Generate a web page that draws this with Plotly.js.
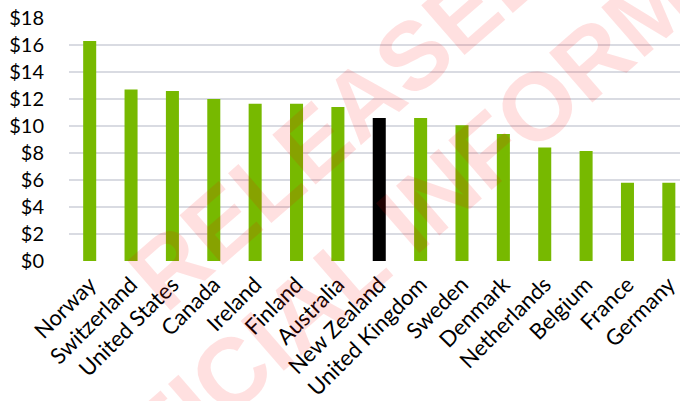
<!DOCTYPE html>
<html>
<head>
<meta charset="utf-8">
<script src="https://cdn.plot.ly/plotly-3.0.1.min.js"></script>
<style>
  html, body { margin: 0; padding: 0; background: #ffffff; }
  #chart { width: 680px; height: 401px; }
</style>
</head>
<body>
<div id="chart"></div>
<script>
// Data
var countries = ["Norway", "Switzerland", "United States", "Canada", "Ireland", "Finland",
  "Australia", "New Zealand", "United Kingdom", "Sweden", "Denmark", "Netherlands",
  "Belgium", "France", "Germany"];
var values = [16.3, 12.7, 12.6, 12.0, 11.65, 11.65, 11.4, 10.6, 10.6, 10.05, 9.4, 8.4, 8.15, 5.8, 5.8];
var highlight = "New Zealand";
var yTicks = [0, 2, 4, 6, 8, 10, 12, 14, 16, 18];
var yTickLabels = ["$0", "$2", "$4", "$6", "$8", "$10", "$12", "$14", "$16", "$18"];
var watermarkLine1 = "RELEASED UNDER THE";
var watermarkLine2 = "OFFICIAL INFORMATION ACT";

var green = "#77b900";
var colors = countries.map(function (c) { return c === highlight ? "#000000" : green; });

var trace = {
  type: "bar",
  x: countries,
  y: values,
  width: 0.315,
  marker: { color: colors, line: { width: 0 } },
  hoverinfo: "x+y"
};

var wmFont = { family: "'Liberation Sans', Arial, sans-serif", size: 96, color: "rgba(255,0,0,0.12)" };

var layout = {
  width: 680,
  height: 401,
  margin: { l: 69, r: 0, t: 18, b: 140, pad: 0 },
  paper_bgcolor: "#ffffff",
  plot_bgcolor: "#ffffff",
  showlegend: false,
  font: { family: "Lato, 'Open Sans', sans-serif", size: 20, color: "#000000" },
  xaxis: {
    type: "category",
    range: [-0.5, 14.27],
    tickangle: -45,
    showgrid: false,
    showline: false,
    zeroline: false,
    ticks: "outside",
    ticklen: 1,
    tickcolor: "rgba(0,0,0,0)",
    tickfont: { family: "Lato, 'Open Sans', sans-serif", size: 22, color: "#000000" },
    fixedrange: true
  },
  yaxis: {
    range: [0, 18],
    tickvals: yTicks,
    ticktext: yTickLabels,
    showgrid: true,
    gridcolor: "#d9dbe2",
    gridwidth: 1.5,
    zeroline: false,
    showline: false,
    ticks: "outside",
    ticklen: 20,
    tickcolor: "rgba(0,0,0,0)",
    tickfont: { family: "Lato, 'Open Sans', sans-serif", size: 20, color: "#000000" },
    fixedrange: true
  },
  annotations: [
    {
      xref: "paper", yref: "paper",
      x: 0.808, y: 1.379,
      xanchor: "center", yanchor: "middle",
      text: "<b>" + watermarkLine1 + "</b>",
      showarrow: false,
      textangle: -41,
      font: wmFont
    },
    {
      xref: "paper", yref: "paper",
      x: 0.79, y: 0.69,
      xanchor: "center", yanchor: "middle",
      text: "<b>" + watermarkLine2 + "</b>",
      showarrow: false,
      textangle: -41,
      font: wmFont
    }
  ]
};

Plotly.newPlot("chart", [trace], layout, { displayModeBar: false, staticPlot: true });
</script>
</body>
</html>
